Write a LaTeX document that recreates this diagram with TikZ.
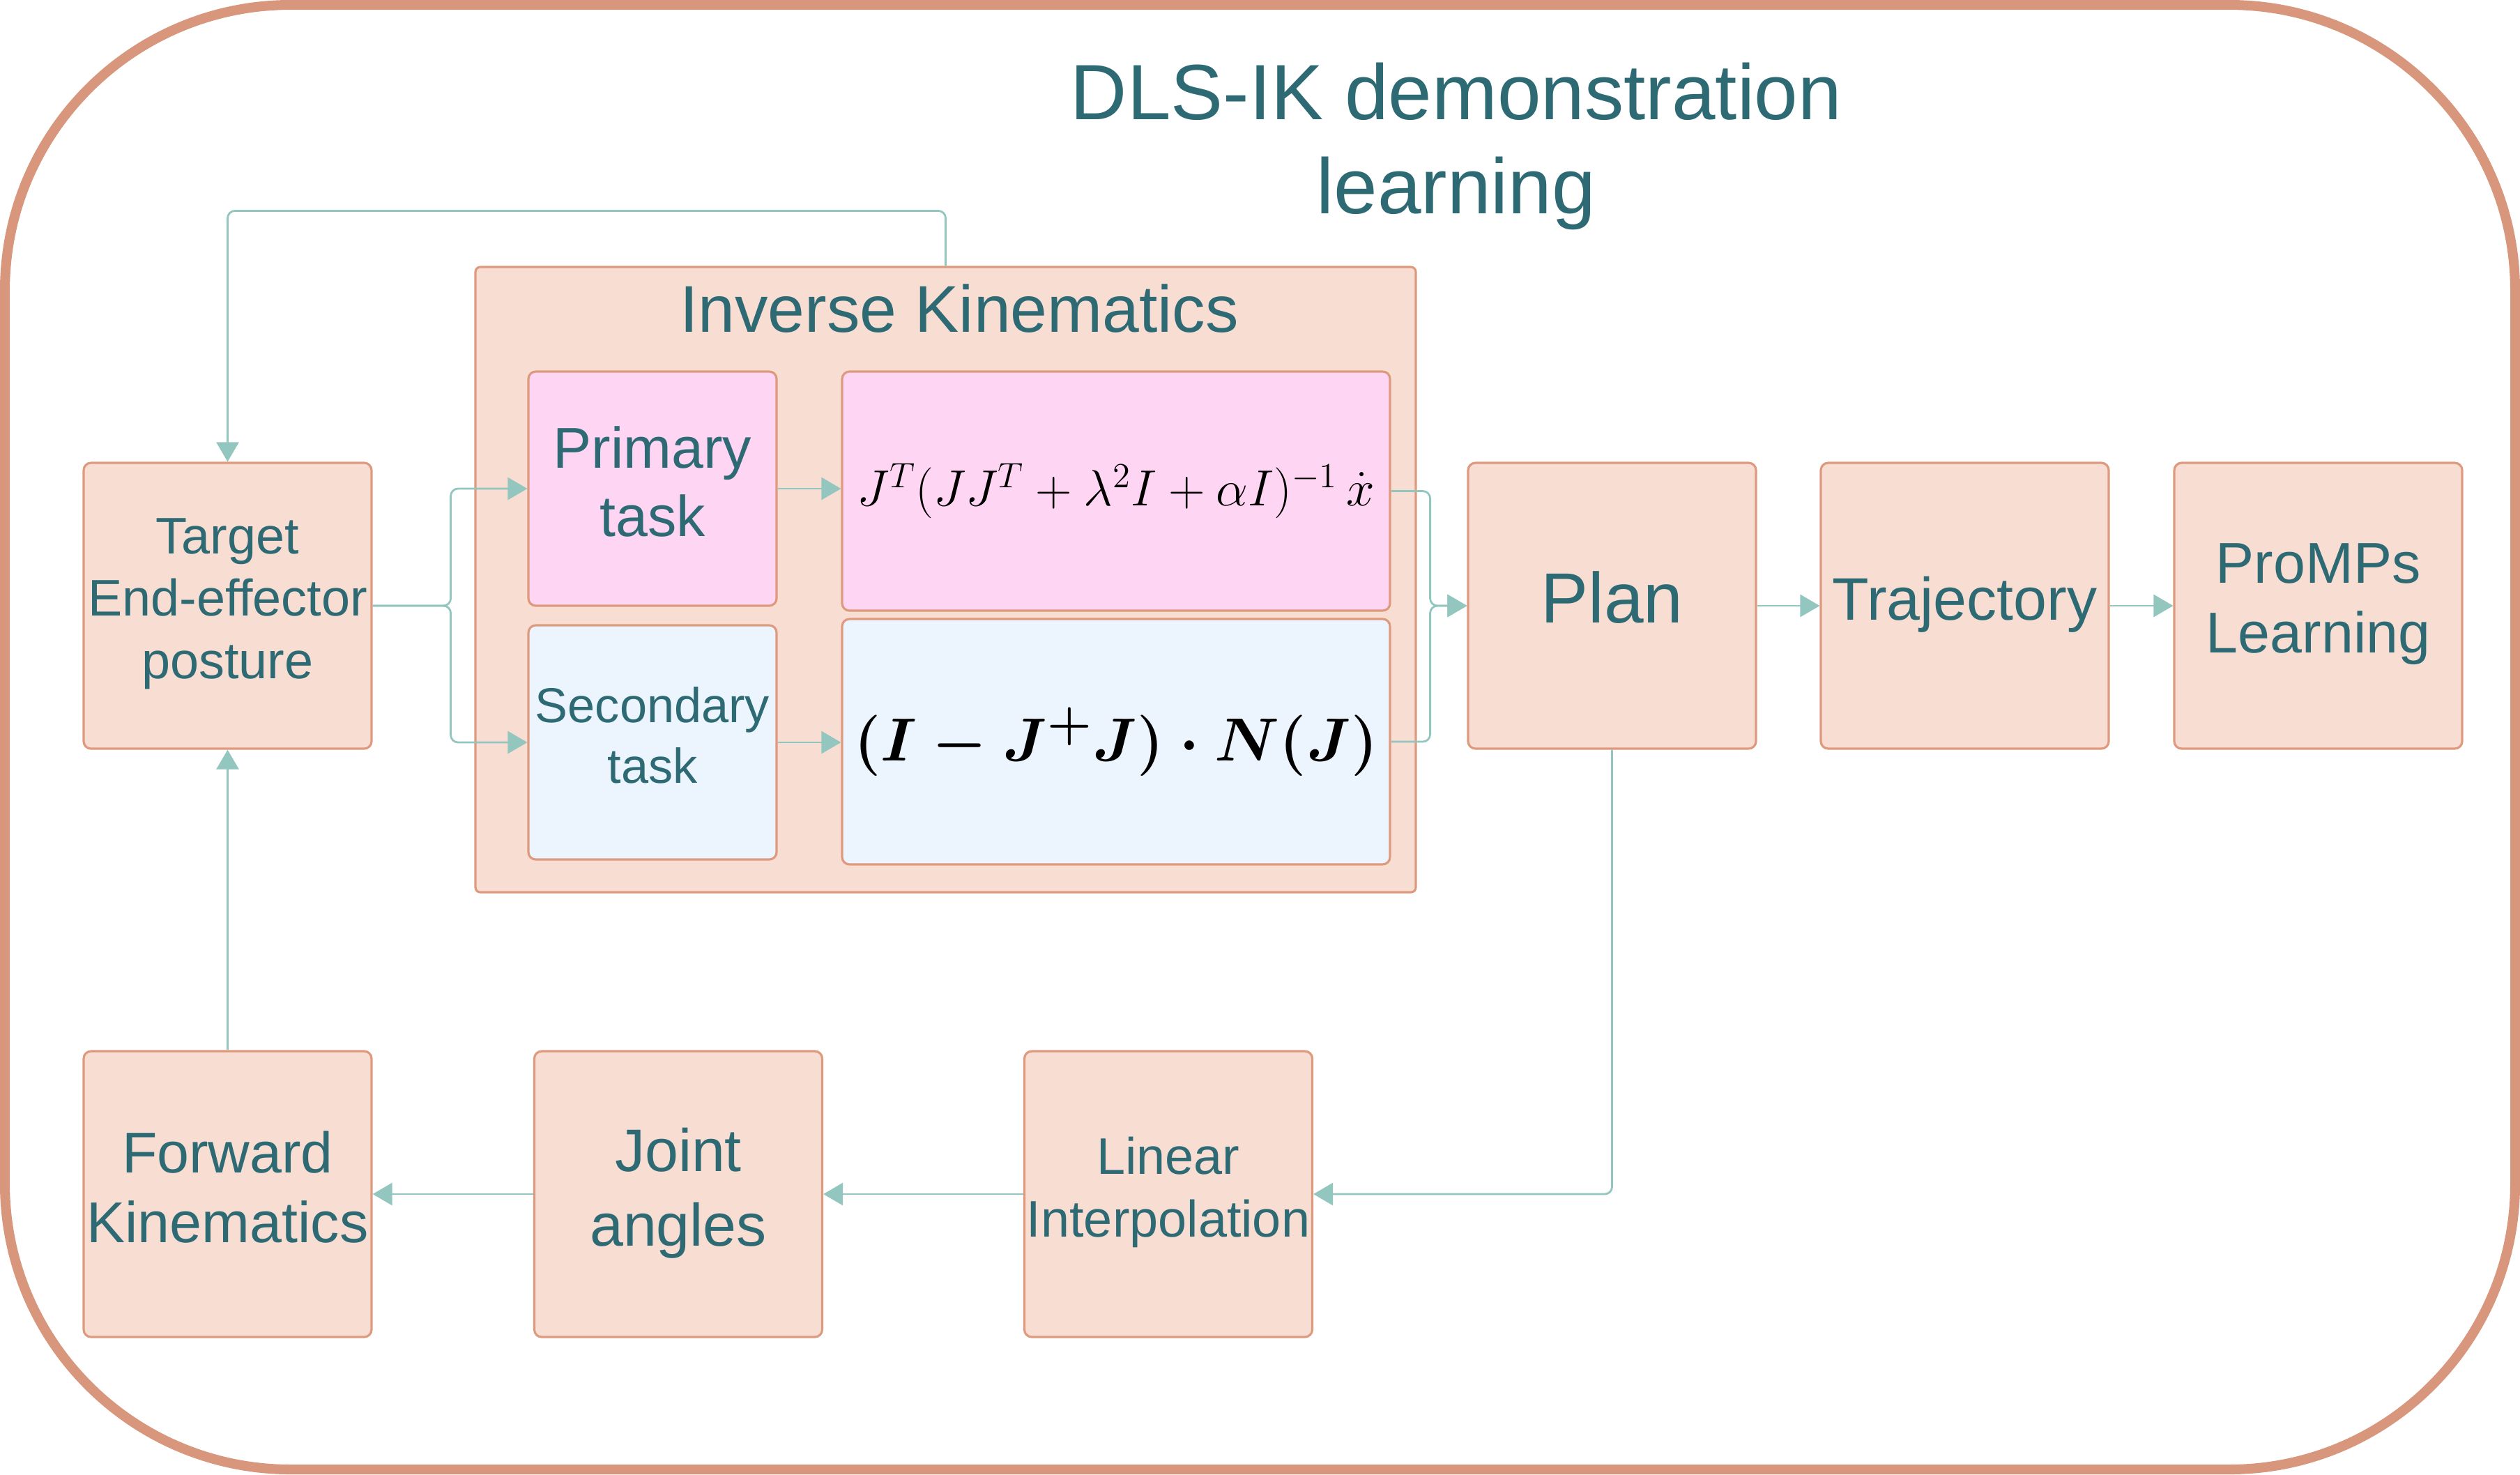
\documentclass[tikz,border=0pt]{standalone}
\usepackage{amsmath,amssymb}
\usepackage{fontspec}
\usetikzlibrary{arrows.meta, positioning, calc}
\newfontfamily\arialish{Liberation Sans}
\definecolor{frameline}{HTML}{D8977C}
\definecolor{boxfill}{HTML}{F8DDD3}
\definecolor{boxline}{HTML}{DE9A7E}
\definecolor{pinkfill}{HTML}{FFD5F4}
\definecolor{bluefill}{HTML}{ECF4FE}
\definecolor{linkteal}{HTML}{94C6C0}
\definecolor{darkteal}{HTML}{2D6A73}

\begin{document}
\begin{tikzpicture}[
    >={Triangle[length=2.8mm, width=3.2mm]},
    every node/.style={text=darkteal},
    box/.style={draw=boxline, fill=boxfill, line width=0.9pt, rounded corners=3pt,
      minimum width=4.13cm, minimum height=4.1cm, inner sep=0pt, align=center,
      text depth=6pt},
    task/.style={box, minimum width=3.56cm, minimum height=3.36cm},
    formula/.style={box, text=black, minimum width=7.86cm, text depth=},
    link/.style={draw=linkteal, line width=0.8pt, rounded corners=3pt, ->},
  ]

  % Page size
  \useasboundingbox (0,0) rectangle (36.15,-21.15);

  % Outer frame
  \draw[frameline, line width=4pt, rounded corners=4.1cm] (0.07,-0.07) rectangle (36.08,-21.08);

  % Title
  \node[font=\arialish\fontsize{32}{38.5}\selectfont, align=center] (title) at (20.89,-2.1)
    {DLS-IK demonstration\\learning};

  % === Inverse kinematics block ===
  \node[draw=boxline, fill=boxfill, line width=0.9pt, rounded corners=2pt,
        minimum width=13.49cm, minimum height=8.97cm] (ik) at (13.565,-8.315) {};
  \node[font=\arialish\fontsize{27}{32}\selectfont] (iklabel) at (13.76,-4.43) {Inverse Kinematics};

  \node[task, fill=pinkfill, font=\arialish\fontsize{23.5}{28}\selectfont] (primary) at (9.36,-7.01)
    {Primary\\task};
  \node[task, fill=bluefill, font=\arialish\fontsize{20}{24.5}\selectfont] (secondary) at (9.36,-10.65)
    {Secondary\\task};

  \node[formula, fill=pinkfill, minimum height=3.43cm, font=\fontsize{20.3}{24}\selectfont] (fprim) at (16.01,-7.045)
    {$J^T(JJ^T+\lambda^2I+\alpha I)^{-1}\,\dot{x}$};
  \node[formula, fill=bluefill, minimum height=3.52cm, font=\fontsize{28}{33}\selectfont\boldmath] (fsec) at (16.01,-10.64)
    {$(I-J^{+}J)\cdot N(J)$};

  % === Main row ===
  \node[box, font=\arialish\fontsize{21}{25.5}\selectfont] (target) at (3.265,-8.69)
    {Target\\End-effector\\posture};
  \node[box, text depth=7pt, font=\arialish\fontsize{29}{34}\selectfont] (plan) at (23.125,-8.69) {Plan};
  \node[box, font=\arialish\fontsize{24.5}{29}\selectfont] (traj) at (28.185,-8.69) {Trajectory};
  \node[box, font=\arialish\fontsize{23.5}{28.5}\selectfont] (promp) at (33.255,-8.69)
    {ProMPs\\Learning};

  % === Bottom row ===
  \node[box, font=\arialish\fontsize{23.5}{28.5}\selectfont] (fk) at (3.265,-17.13)
    {Forward\\Kinematics};
  \node[box, font=\arialish\fontsize{24.5}{30.5}\selectfont] (joint) at (9.73,-17.13)
    {Joint\\angles};
  \node[box, font=\arialish\fontsize{21}{25.5}\selectfont] (linear) at (16.76,-17.13)
    {Linear\\Interpolation};

  % === Connectors ===
  \draw[link] (target.east) -- ++(1.12,0) |- (primary.west);
  \draw[link] (target.east) -- ++(1.12,0) |- (secondary.west);
  \draw[link] (primary.east) -- (primary.east -| fprim.west);
  \draw[link] (secondary.east) -- (secondary.east -| fsec.west);
  \draw[link] (fprim.east) -- ++(0.56,0) |- (plan.west);
  \draw[link] (fsec.east) -- ++(0.56,0) |- (plan.west);
  \draw[link] (plan) -- (traj);
  \draw[link] (traj) -- (promp);
  \draw[link] (plan.south) |- (linear.east);
  \draw[link] (linear) -- (joint);
  \draw[link] (joint) -- (fk);
  \draw[link] (fk) -- (target);
  \draw[link] (ik.north) -- ++(0,0.79) -| (target.north);

\end{tikzpicture}
\end{document}
